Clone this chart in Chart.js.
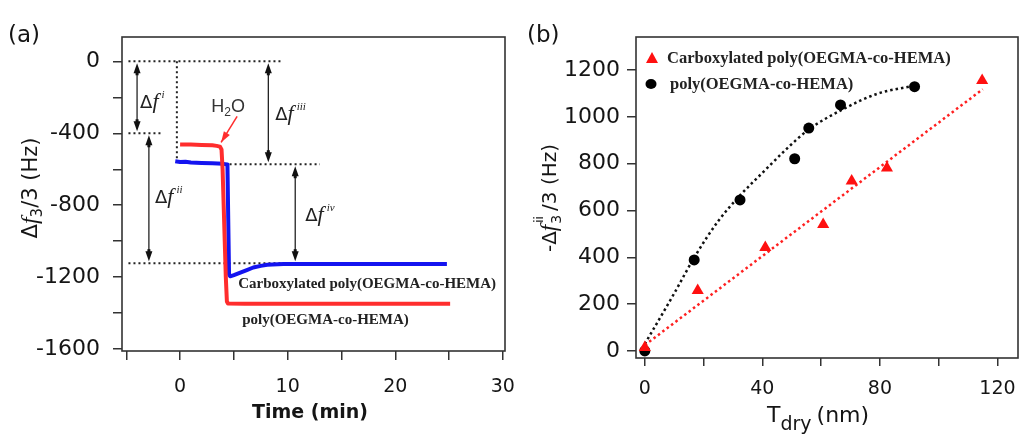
<!DOCTYPE html>
<html><head><meta charset="utf-8">
<script src="https://cdn.jsdelivr.net/npm/chart.js@4.4.1/dist/chart.umd.min.js"></script>
<style>
html,body{margin:0;padding:0;background:#fff;}
#wrap{position:relative;width:1025px;height:434px;overflow:hidden;background:#fff;}
#ca{position:absolute;left:0;top:0;}
#cb{position:absolute;left:520px;top:0;}
</style></head><body>
<div id="wrap"><canvas id="ca" width="520" height="434"></canvas><canvas id="cb" width="505" height="434"></canvas></div>
<script>
// ---------- Panel (a): QCM-D frequency shift vs time ----------
const timeRed  = [0, 1, 2, 3, 3.4, 3.7, 3.85, 3.95, 4.05, 4.15, 4.25, 4.35, 4.45, 6, 10, 15, 20, 25.1];
const shiftRed = [-462, -463, -465, -467, -470, -474, -490, -600, -800, -1000, -1200, -1335, -1346, -1347, -1347, -1348, -1348, -1348];
const timeBlue  = [-0.45, 0, 0.5, 1, 2, 3, 4, 4.4, 4.55, 4.65, 5, 5.6, 6.2, 6.8, 7.5, 8.1, 9.6, 12, 15, 20, 24.8];
const shiftBlue = [-556, -560, -558, -562, -565, -567, -570, -573, -1185, -1195, -1188, -1174, -1160, -1146, -1137, -1131, -1127, -1126, -1127, -1127, -1127];
const labelRedA  = 'poly(OEGMA-co-HEMA)';
const labelBlueA = 'Carboxylated poly(OEGMA-co-HEMA)';
// guide lines [x1, y1, x2, y2] in data units
const guideLines = [[-4.8, 0, 9.6, 0], [-4.8, -400, -1.7, -400], [4.6, -572, 13, -572], [-4.8, -1122, 11, -1122], [-0.3, 0, -0.3, -555]];
// double arrows [x, yTop, yBottom]
const arrowsA = [[-4.0, 0, -400], [-2.9, -400, -1122], [8.2, 0, -572], [10.7, -572, -1122]];
// delta-f labels [x, y, superscript]
const dfLabels = [[-3.72, -262, 'i'], [-2.33, -785, 'ii'], [8.84, -329, 'iii'], [11.63, -886, 'iv']];
const xRangeA = [-5.4, 30.2];
const yRangeA = [-1610, 135];
const xTickValuesA = [-5, 0, 5, 10, 15, 20, 25, 30];
const xTickLabelsA = ['', '0', '', '10', '', '20', '', '30'];
const yTickValuesA = [-1600, -1400, -1200, -1000, -800, -600, -400, -200, 0];
const yTickLabelsA = ['-1600', '', '-1200', '', '-800', '', '-400', '', '0'];

// ---------- Panel (b): frequency shift vs dry thickness ----------
const dryCarb   = [0, 18, 41, 60.7, 70.4, 82.4, 114.8];
const shiftCarb = [15, 258, 442, 540, 726, 782, 1155];
const dryPoly   = [0, 16.8, 32.4, 51, 55.8, 66.6, 91.8];
const shiftPoly = [0, 389, 645, 821, 952, 1051, 1129];
const fitCarbX = [0, 115];
const fitCarbY = [25, 1118];
const fitPolyX = [0, 10, 17, 25, 32, 41, 49, 56, 68, 79, 92];
const fitPolyY = [30, 246, 403, 555, 659, 773, 872, 948, 1036, 1098, 1134];
const labelCarb = 'Carboxylated poly(OEGMA-co-HEMA)';
const labelPoly = 'poly(OEGMA-co-HEMA)';
const xRangeB = [-3, 127];
const yRangeB = [-30, 1341];
const xTickValuesB = [0, 20, 40, 60, 80, 100, 120];
const xTickLabelsB = ['0', '', '40', '', '80', '', '120'];
const yTickValuesB = [0, 200, 400, 600, 800, 1000, 1200];
const yTickLabelsB = ['0', '200', '400', '600', '800', '1000', '1200'];

const RED = '#ff2d2d', BLUE = '#1414f0', AXIS = '#333333', TXT = '#151515';
const pts = (xs, ys) => xs.map((x, i) => ({x, y: ys[i]}));

function dotted(ctx, x1, y1, x2, y2, color, lw, dash) {
  ctx.save(); ctx.strokeStyle = color; ctx.lineWidth = lw; ctx.setLineDash(dash);
  ctx.beginPath(); ctx.moveTo(x1, y1); ctx.lineTo(x2, y2); ctx.stroke(); ctx.restore();
}
function head(ctx, x, y, dir) { // dir -1 up, +1 down
  ctx.beginPath(); ctx.moveTo(x, y); ctx.lineTo(x - 3.5, y - dir * 10); ctx.lineTo(x + 3.5, y - dir * 10); ctx.closePath(); ctx.fill();
}
function richText(ctx, parts, x, y) {
  let cx = x;
  for (const p of parts) {
    ctx.font = p.font;
    ctx.fillText(p.t, cx + (p.dx || 0), y + (p.dy || 0));
    const w = ctx.measureText(p.t).width;
    if (!p.noAdvance) cx += w + (p.gap || 0);
  }
  return cx;
}
function partsWidth(ctx, parts) {
  let w = 0;
  for (const p of parts) { ctx.font = p.font; if (!p.noAdvance) w += ctx.measureText(p.t).width + (p.gap || 0); }
  return w;
}

const frame = {
  id: 'frame',
  afterDraw(chart) {
    const {ctx, chartArea: a} = chart;
    ctx.save(); ctx.strokeStyle = AXIS; ctx.lineWidth = 1.6;
    ctx.strokeRect(a.left, a.top, a.right - a.left, a.bottom - a.top); ctx.restore();
  }
};

const annotA = {
  id: 'annotA',
  beforeDatasetsDraw(chart) {
    const {ctx, scales: {x, y}} = chart;
    for (const g of guideLines) {
      dotted(ctx, x.getPixelForValue(g[0]), y.getPixelForValue(g[1]), x.getPixelForValue(g[2]), y.getPixelForValue(g[3]), '#222', 2, [2, 3]);
    }
  },
  afterDatasetsDraw(chart) {
    const {ctx, scales: {x, y}} = chart;
    ctx.save();
    ctx.fillStyle = '#111'; ctx.strokeStyle = '#111'; ctx.lineWidth = 1.2;
    for (const a of arrowsA) {
      const px = x.getPixelForValue(a[0]), y1 = y.getPixelForValue(a[1]) + 2, y2 = y.getPixelForValue(a[2]) - 2;
      ctx.beginPath(); ctx.moveTo(px, y1 + 6); ctx.lineTo(px, y2 - 6); ctx.stroke();
      head(ctx, px, y1, -1); head(ctx, px, y2, 1);
      ctx.fillRect(px - 1.5, y1 + 8, 3, 4); ctx.fillRect(px - 1.5, y2 - 12, 3, 4);
    }
    ctx.fillStyle = '#222'; ctx.textBaseline = 'alphabetic'; ctx.textAlign = 'left';
    for (const d of dfLabels) {
      const px = x.getPixelForValue(d[0]), py = y.getPixelForValue(d[1]);
      richText(ctx, [
        {t: 'Δ', font: '18px "DejaVu Sans"', gap: 0},
        {t: 'f', font: 'italic 22px "Liberation Serif"', gap: 3},
        {t: d[2], font: 'italic 11px "Liberation Serif"', dy: -10}
      ], px, py);
    }
    // H2O label with red arrow
    const hx = x.getPixelForValue(4.47), hy = y.getPixelForValue(-282);
    const hParts = [{t: 'H', font: '18px "Liberation Sans"'}, {t: '2', font: '12px "Liberation Sans"', dy: 4}, {t: 'O', font: '18px "Liberation Sans"'}];
    ctx.fillStyle = '#333';
    richText(ctx, hParts, hx - partsWidth(ctx, hParts) / 2, hy);
    const ax1 = x.getPixelForValue(5.3), ay1 = y.getPixelForValue(-306), ax2 = x.getPixelForValue(3.81), ay2 = y.getPixelForValue(-451);
    ctx.strokeStyle = RED; ctx.fillStyle = RED; ctx.lineWidth = 1.5;
    ctx.beginPath(); ctx.moveTo(ax1, ay1); ctx.lineTo(ax2, ay2); ctx.stroke();
    const ang = Math.atan2(ay2 - ay1, ax2 - ax1);
    ctx.beginPath(); ctx.moveTo(ax2, ay2);
    ctx.lineTo(ax2 - 11 * Math.cos(ang) + 3.5 * Math.sin(ang), ay2 - 11 * Math.sin(ang) - 3.5 * Math.cos(ang));
    ctx.lineTo(ax2 - 11 * Math.cos(ang) - 3.5 * Math.sin(ang), ay2 - 11 * Math.sin(ang) + 3.5 * Math.cos(ang));
    ctx.closePath(); ctx.fill();
    // series labels
    ctx.fillStyle = '#222'; ctx.font = 'bold 15px "Liberation Serif"';
    ctx.fillText(chart.data.datasets[1].label, x.getPixelForValue(5.4), y.getPixelForValue(-1262));
    ctx.fillText(chart.data.datasets[0].label, x.getPixelForValue(5.77), y.getPixelForValue(-1460));
    ctx.restore();
  },
  afterDraw(chart) {
    const {ctx} = chart;
    ctx.save(); ctx.fillStyle = TXT; ctx.textBaseline = 'alphabetic';
    ctx.font = '23px "DejaVu Sans"'; ctx.textAlign = 'left'; ctx.fillText('(a)', 8, 42);
    ctx.font = 'bold 19px "DejaVu Sans"'; ctx.textAlign = 'center'; ctx.fillText('Time (min)', 310, 418);
    ctx.textAlign = 'left';
    const parts = [
      {t: 'Δ', font: '21px "DejaVu Sans"'},
      {t: 'f', font: 'italic 24px "Liberation Serif"', gap: 0},
      {t: '3', font: '15px "DejaVu Sans"', dy: 5},
      {t: '/3 (Hz)', font: '21px "DejaVu Sans"'}
    ];
    ctx.translate(37, 188); ctx.rotate(-Math.PI / 2);
    richText(ctx, parts, -partsWidth(ctx, parts) / 2, 0);
    ctx.restore();
  }
};

const annotB = {
  id: 'annotB',
  afterDraw(chart) {
    const {ctx} = chart;
    ctx.save(); ctx.fillStyle = TXT; ctx.textBaseline = 'alphabetic'; ctx.textAlign = 'left';
    ctx.font = '23px "DejaVu Sans"'; ctx.fillText('(b)', 7, 42);
    const ds = chart.data.datasets;
    ctx.fillStyle = ds[0].backgroundColor;
    ctx.beginPath(); ctx.moveTo(132, 52); ctx.lineTo(138, 63); ctx.lineTo(126, 63); ctx.closePath(); ctx.fill();
    ctx.fillStyle = ds[1].backgroundColor;
    ctx.beginPath(); ctx.ellipse(131, 84, 5.5, 5, 0, 0, Math.PI * 2); ctx.fill();
    ctx.fillStyle = '#222'; ctx.font = 'bold 16.5px "Liberation Serif"';
    ctx.fillText(ds[0].label, 147, 63);
    ctx.fillText(ds[1].label, 150, 89);
    ctx.fillStyle = TXT;
    richText(ctx, [
      {t: 'T', font: '22px "DejaVu Sans"'},
      {t: 'dry', font: '19px "DejaVu Sans"', dy: 8, gap: 5},
      {t: '(nm)', font: '22px "DejaVu Sans"'}
    ], 247, 422);
    const parts = [
      {t: '-', font: '20px "DejaVu Sans"'},
      {t: 'Δ', font: '20px "DejaVu Sans"'},
      {t: 'f', font: 'italic 23px "Liberation Serif"', gap: 1},
      {t: 'ii', font: '12px "DejaVu Sans"', dy: -13, dx: 1, noAdvance: true},
      {t: '3', font: '14px "DejaVu Sans"', dy: 5, gap: 4},
      {t: '/3 (Hz)', font: '20px "DejaVu Sans"'}
    ];
    ctx.translate(36, 198); ctx.rotate(-Math.PI / 2);
    richText(ctx, parts, -partsWidth(ctx, parts) / 2, 0);
    ctx.restore();
  }
};

function linScale(range, values, labels, fit, fontSize, tl, pad) {
  return {
    type: 'linear', min: range[0], max: range[1],
    afterFit: s => { fit(s); s.paddingLeft = 0; s.paddingRight = 0; s.paddingTop = 0; s.paddingBottom = 0; },
    afterBuildTicks: s => { s.ticks = values.map(v => ({value: v})); },
    border: {display: false},
    grid: {drawOnChartArea: false, drawTicks: true, tickLength: tl, color: AXIS, lineWidth: 1.5},
    ticks: {autoSkip: false, maxRotation: 0, padding: pad, color: TXT,
            font: {family: 'DejaVu Sans', size: fontSize},
            callback: (v, i) => labels[values.indexOf(v)] ?? ''}
  };
}

new Chart(document.getElementById('ca'), {
  type: 'scatter',
  data: {datasets: [
    {label: labelRedA, data: pts(timeRed, shiftRed), showLine: true, borderColor: RED, backgroundColor: RED, borderWidth: 4, pointRadius: 0, borderJoinStyle: 'round', tension: 0},
    {label: labelBlueA, data: pts(timeBlue, shiftBlue), showLine: true, borderColor: BLUE, backgroundColor: BLUE, borderWidth: 4, pointRadius: 0, borderJoinStyle: 'round', tension: 0}
  ]},
  options: {
    responsive: false, animation: false, devicePixelRatio: 1,
    layout: {padding: {left: 0, top: 37, right: 15, bottom: 0}},
    plugins: {legend: {display: false}, tooltip: {enabled: false}},
    scales: {
      x: linScale(xRangeA, xTickValuesA, xTickLabelsA, s => { s.height = 83; }, 19, 9, 16),
      y: linScale(yRangeA, yTickValuesA, yTickLabelsA, s => { s.width = 122; }, 22, 9, 13)
    }
  },
  plugins: [annotA, frame]
});

new Chart(document.getElementById('cb'), {
  type: 'scatter',
  data: {datasets: [
    {label: labelCarb, data: pts(dryCarb, shiftCarb), pointStyle: 'triangle', pointRadius: 7, backgroundColor: '#ff1010', borderColor: '#ff1010', borderWidth: 0, order: 1},
    {label: labelPoly, data: pts(dryPoly, shiftPoly), pointStyle: 'circle', pointRadius: 5.5, backgroundColor: '#000', borderColor: '#000', borderWidth: 0, order: 1},
    {label: 'fit carb', data: pts(fitCarbX, fitCarbY), showLine: true, pointRadius: 0, borderColor: '#ff2020', borderWidth: 2.5, borderDash: [2.5, 3], order: 2},
    {label: 'fit poly', data: pts(fitPolyX, fitPolyY), showLine: true, pointRadius: 0, borderColor: '#111', borderWidth: 2.5, borderDash: [2.5, 3], cubicInterpolationMode: 'monotone', order: 2}
  ]},
  options: {
    responsive: false, animation: false, devicePixelRatio: 1,
    layout: {padding: {left: 0, top: 37, right: 1, bottom: 0}},
    plugins: {legend: {display: false}, tooltip: {enabled: false}},
    scales: {
      x: linScale(xRangeB, xTickValuesB, xTickLabelsB, s => { s.height = 76; }, 19, 8, 12),
      y: linScale(yRangeB, yTickValuesB, yTickLabelsB, s => { s.width = 116; }, 22, 9, 7)
    }
  },
  plugins: [annotB, frame]
});
</script>
</body></html>
